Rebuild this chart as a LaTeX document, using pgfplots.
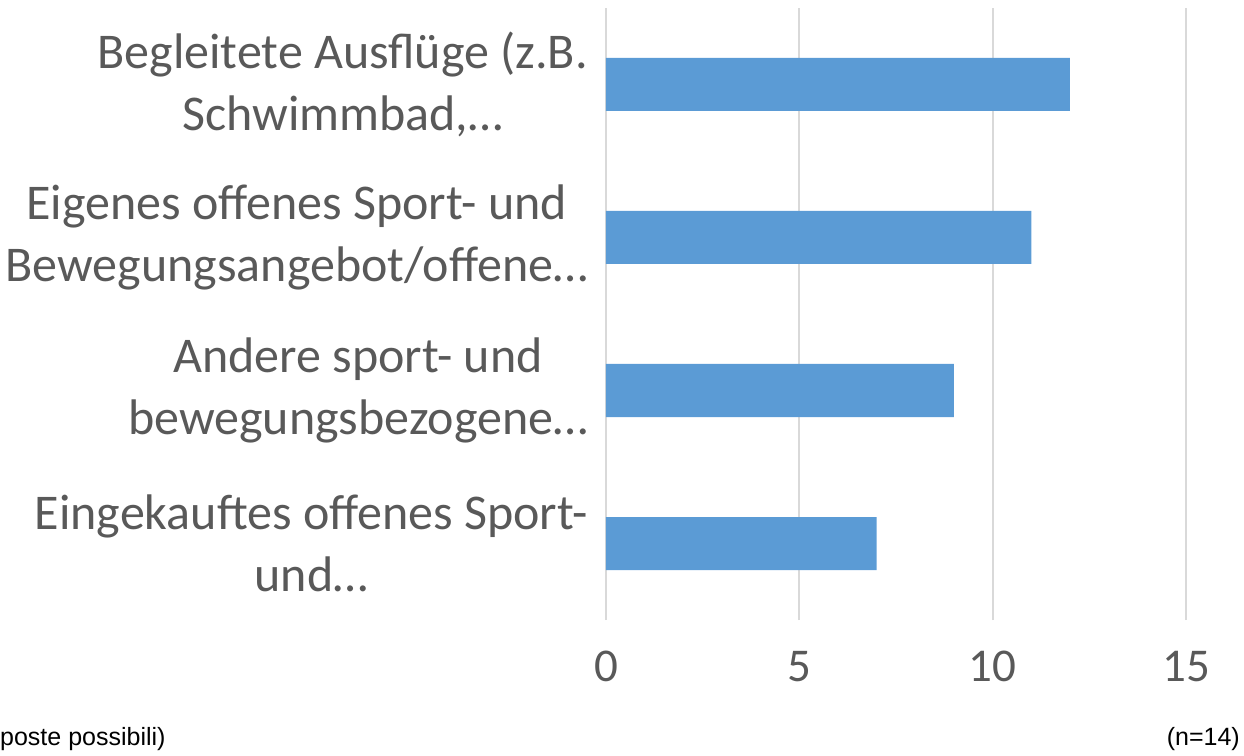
\documentclass[border=0pt]{standalone}
\usepackage{pgfplots}
\pgfplotsset{compat=1.18}
\usepackage{fontspec}
\setmainfont{Carlito}
\newfontfamily\arialfont{Liberation Sans}
\definecolor{barblue}{HTML}{5B9BD5}
\definecolor{labgray}{HTML}{595959}
\definecolor{gridgray}{HTML}{D9D9D9}
\begin{document}
\begin{tikzpicture}
\path[use as bounding box] (-606pt,-135pt) rectangle (638pt,620pt);
\begin{axis}[
  at={(0pt,0pt)}, anchor=south west,
  scale only axis, width=580pt, height=612pt,
  xmin=0, xmax=15, ymin=-0.5, ymax=3.5,
  xbar, bar width=53pt,
  xtick={0,5,10,15}, ytick={0,1,2,3},
  yticklabels={{Eingekauftes offenes Sport-\\und…},{Andere sport- und\\bewegungsbezogene…},{Eigenes offenes Sport- und\\Bewegungsangebot/offene…},{Begleitete Ausflüge (z.B.\\Schwimmbad,…}},
  xmajorgrids, grid style={gridgray, line width=2pt},
  axis line style={draw=none}, major tick length=0pt,
  /pgf/number format/assume math mode=true,
  yticklabel style={align=center, font=\fontsize{50}{62}\selectfont, text=labgray, inner sep=0pt, xshift=-18pt},
  xticklabel style={font=\fontsize{47}{55}\selectfont, text=labgray, anchor=base, inner sep=0pt, yshift=-61pt},
]
\addplot[fill=barblue, draw=none] coordinates {(7,0) (9,1) (11,2) (12,3)};
\end{axis}
\node[anchor=base west, inner sep=0pt, font=\arialfont\fontsize{25}{29}\selectfont] at (-606pt,-125pt) {poste possibili)};
\node[anchor=base east, inner sep=0pt, font=\arialfont\fontsize{25}{29}\selectfont] at (634pt,-125pt) {(n=14)};
\end{tikzpicture}
\end{document}
